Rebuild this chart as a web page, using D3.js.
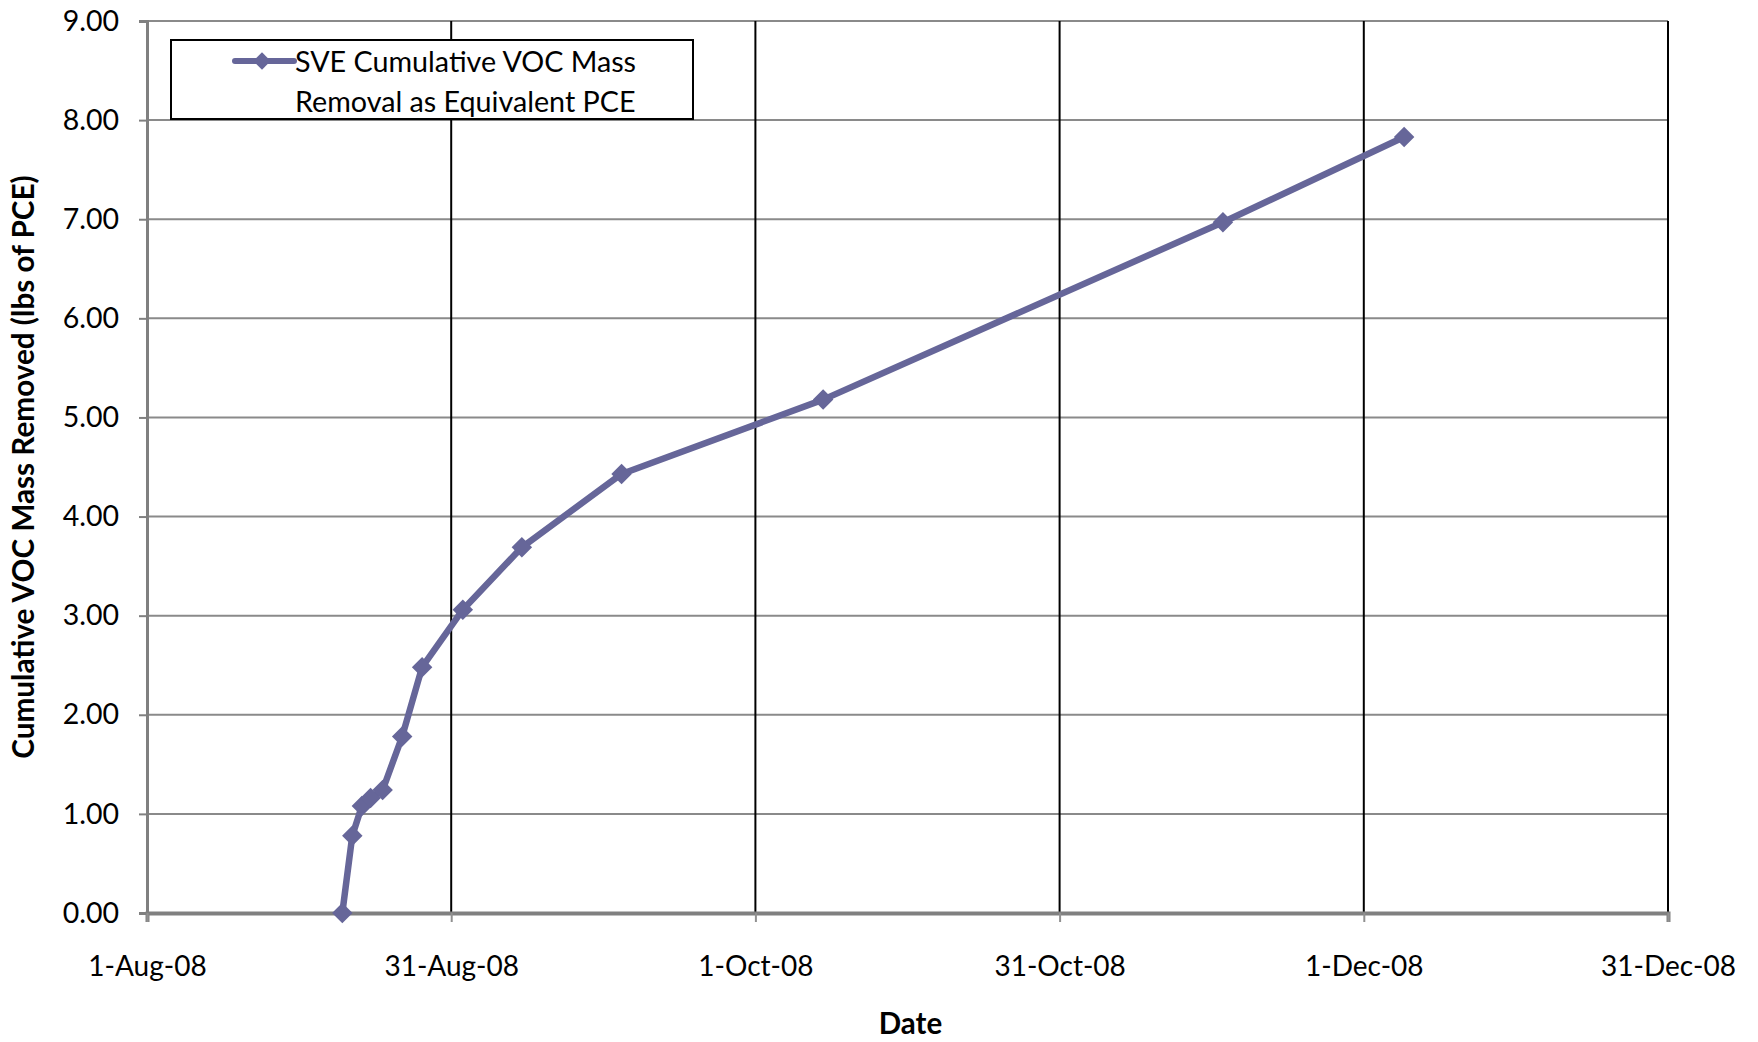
<!DOCTYPE html>
<html>
<head>
<meta charset="utf-8">
<script src="https://d3js.org/d3.v7.min.js"></script>
<style>
  body { margin: 0; background: #fff; }
  svg { display: block; font-family: Lato, "Open Sans", sans-serif; }
</style>
</head>
<body>
<svg id="chart" width="1758" height="1042"></svg>
<script>
// sample times of the SVE readings
const sampleTimes = [
  "2008-08-20T14:00", "2008-08-21T14:00", "2008-08-22T13:00", "2008-08-23T10:00",
  "2008-08-24T15:00", "2008-08-26T14:00", "2008-08-28T14:00", "2008-09-01T16:00",
  "2008-09-07T14:00", "2008-09-17T14:00", "2008-10-07T19:00", "2008-11-16T21:00",
  "2008-12-05T01:00"
];
// cumulative removal, lbs of PCE
const massRemoved = [0.00, 0.78, 1.08, 1.16, 1.24, 1.78, 2.48, 3.06, 3.69, 4.43, 5.18, 6.97, 7.83];

const yTicks = [0, 1, 2, 3, 4, 5, 6, 7, 8, 9];
const xStart = new Date(2008, 7, 1);
const xStepDays = 30.5;   // excel major unit
const xTickCount = 6;

const seriesName = ["SVE Cumulative VOC Mass", "Removal as Equivalent PCE"];
const yTitle = "Cumulative VOC Mass Removed (lbs of PCE)";
const xTitle = "Date";

const margin = {top: 21, right: 90, bottom: 129, left: 147};
const width = 1758, height = 1042;
const svg = d3.select("#chart");

const parse = d3.timeParse("%Y-%m-%dT%H:%M");
const data = sampleTimes.map((t, i) => ({date: parse(t), value: massRemoved[i]}));

const xTickDates = d3.range(xTickCount).map(i => new Date(xStart.getTime() + i * xStepDays * 864e5));

const x = d3.scaleTime()
    .domain([xTickDates[0], xTickDates[xTickDates.length - 1]])
    .range([margin.left, width - margin.right]);
const y = d3.scaleLinear()
    .domain([0, 9])
    .range([height - margin.bottom, margin.top]);

// horizontal gridlines
svg.append("g")
    .selectAll("line")
    .data(yTicks.filter(d => d > 0))
    .join("line")
    .attr("x1", x.range()[0]).attr("x2", x.range()[1])
    .attr("y1", d => y(d)).attr("y2", d => y(d))
    .attr("stroke", "#8a8a8a").attr("stroke-width", 2);

// vertical gridlines (black)
svg.append("g")
    .selectAll("line")
    .data(xTickDates.slice(1))
    .join("line")
    .attr("x1", d => x(d)).attr("x2", d => x(d))
    .attr("y1", y.range()[0]).attr("y2", y.range()[1])
    .attr("stroke", "#000").attr("stroke-width", 2);

// y axis
const yAxis = svg.append("g")
    .attr("transform", `translate(${margin.left},0)`)
    .call(d3.axisLeft(y).tickValues(yTicks).tickFormat(d3.format(".2f")).tickSizeOuter(0).tickSize(8).tickPadding(20));
yAxis.select(".domain").attr("stroke", "#808080").attr("stroke-width", 3);
yAxis.selectAll(".tick line").attr("stroke", "#808080").attr("stroke-width", 2);
yAxis.selectAll("text").attr("font-size", 28.5).attr("fill", "#000").attr("font-family", "Lato");

// x axis
const xAxis = svg.append("g")
    .attr("transform", `translate(0,${y(0)})`)
    .call(d3.axisBottom(x).tickValues(xTickDates).tickFormat(d3.timeFormat("%-d-%b-%y")).tickSizeOuter(0).tickSize(9).tickPadding(34));
xAxis.select(".domain").attr("stroke", "#808080").attr("stroke-width", 4);
xAxis.selectAll(".tick line").attr("stroke", "#909090").attr("stroke-width", 2);
xAxis.selectAll("text").attr("font-size", 28).attr("fill", "#000").attr("font-family", "Lato");

// axis titles
svg.append("text")
    .attr("transform", `translate(34,${(y.range()[0] + y.range()[1]) / 2}) rotate(-90)`)
    .attr("text-anchor", "middle")
    .attr("font-size", 29.7).attr("font-weight", "bold")
    .text(yTitle);
svg.append("text")
    .attr("x", (x.range()[0] + x.range()[1]) / 2 + 3)
    .attr("y", 1034)
    .attr("text-anchor", "middle")
    .attr("font-size", 29.5).attr("font-weight", "bold")
    .text(xTitle);

// series
const color = "#666699";
const line = d3.line().x(d => x(d.date)).y(d => y(d.value));
svg.append("path")
    .datum(data)
    .attr("d", line)
    .attr("fill", "none")
    .attr("stroke", color)
    .attr("stroke-width", 6.5)
    .attr("stroke-linejoin", "round");

const diamond = d3.symbol(d3.symbolSquare, 210);
svg.append("g")
    .selectAll("path")
    .data(data)
    .join("path")
    .attr("d", diamond)
    .attr("transform", d => `translate(${x(d.date)},${y(d.value)}) rotate(45)`)
    .attr("fill", color);

// legend
const legend = svg.append("g");
legend.append("rect")
    .attr("x", 171).attr("y", 40).attr("width", 522).attr("height", 79)
    .attr("fill", "#fff").attr("stroke", "#000").attr("stroke-width", 2);
legend.append("line")
    .attr("x1", 235).attr("x2", 294).attr("y1", 61).attr("y2", 61)
    .attr("stroke", color).attr("stroke-width", 6).attr("stroke-linecap", "round");
legend.append("path")
    .attr("d", d3.symbol(d3.symbolSquare, 150))
    .attr("transform", "translate(262,61) rotate(45)")
    .attr("fill", color);
legend.selectAll("text")
    .data(seriesName)
    .join("text")
    .attr("x", 295)
    .attr("y", (d, i) => 72 + i * 40)
    .attr("font-size", 28.7)
    .text(d => d);
</script>
</body>
</html>
